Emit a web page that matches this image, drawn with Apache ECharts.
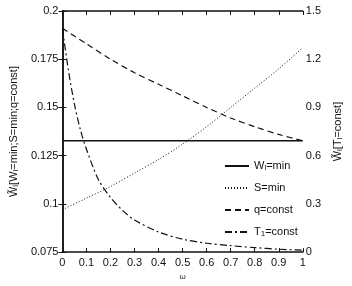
<!DOCTYPE html>
<html>
<head>
<meta charset="utf-8">
<script src="https://cdn.jsdelivr.net/npm/echarts@6/dist/echarts.min.js"></script>
<style>
  html, body { margin: 0; padding: 0; background: #fff; }
  #chart { width: 352px; height: 286px; }
</style>
</head>
<body>
<div id="chart"></div>
<script>
// x positions (omega) and series
const omegaGrid = [0, 0.1, 0.2, 0.3, 0.4, 0.5, 0.6, 0.7, 0.8, 0.9, 1.0];
const wMinValues = [0.1327, 0.1327, 0.1327, 0.1327, 0.1327, 0.1327, 0.1327, 0.1327, 0.1327, 0.1327, 0.1327];
const sMinValues = [0.097, 0.103, 0.109, 0.116, 0.123, 0.131, 0.140, 0.150, 0.160, 0.170, 0.181];
const qConstValues = [0.191, 0.183, 0.175, 0.168, 0.162, 0.156, 0.150, 0.1445, 0.140, 0.136, 0.1327];
const tOmega = [0, 0.025, 0.05, 0.075, 0.1, 0.15, 0.2, 0.25, 0.3, 0.4, 0.5, 0.6, 0.7, 0.8, 0.9, 1.0];
const tConstValues = [1.39, 1.13, 0.92, 0.76, 0.64, 0.45, 0.34, 0.26, 0.20, 0.125, 0.08, 0.055, 0.04, 0.028, 0.018, 0.012];

const xTicks = { min: 0, max: 1, interval: 0.1 };
const leftTicks = { min: 0.075, max: 0.2, interval: 0.025 };
const rightTicks = { min: 0, max: 1.5, interval: 0.3 };

const ink = "#111";
const font = "'Liberation Sans', Arial, sans-serif";

function pairs(xs, ys) {
  return xs.map((x, i) => [x, ys[i]]);
}

const subRich = {
  s: { fontSize: 8, lineHeight: 6, verticalAlign: "bottom", fontFamily: font, color: ink },
};

function lineSeries(name, data, yIndex, type, width) {
  return {
    name,
    type: "line",
    yAxisIndex: yIndex,
    symbol: "none",
    showSymbol: false,
    smooth: 0.3,
    data,
    lineStyle: { color: ink, width, type },
    itemStyle: { color: ink },
  };
}

const legendLabels = {
  "Wl=min": "W{s|l}=min",
  "S=min": "S=min",
  "q=const": "q=const",
  "T1=const": "T{s|1}=const",
};

const chart = echarts.init(document.getElementById("chart"), null, { renderer: "canvas" });
chart.setOption({
  backgroundColor: "#fff",
  animation: false,
  textStyle: { fontFamily: font },
  grid: { left: 52, right: 38, top: 11, bottom: 30 },
  legend: {
    orient: "vertical",
    left: 219,
    top: 155,
    itemWidth: 24,
    itemHeight: 10,
    itemGap: 10,
    itemStyle: { opacity: 0, borderWidth: 0 },
    formatter: (n) => legendLabels[n],
    textStyle: { fontSize: 11, color: ink, lineHeight: 12, fontFamily: font, rich: subRich },
    data: ["Wl=min", "S=min", "q=const", "T1=const"],
  },
  xAxis: [
    {
      type: "value",
      ...xTicks,
      name: "ω",
      nameLocation: "middle",
      nameGap: 20,
      nameTextStyle: { fontSize: 8, color: ink },
      axisLine: { lineStyle: { color: ink, width: 1.5 } },
      axisTick: { inside: true, length: 4, lineStyle: { color: ink } },
      axisLabel: { fontSize: 11, color: ink, margin: 5 },
      splitLine: { show: false },
    },
    {
      type: "value",
      position: "top",
      ...xTicks,
      axisLine: { show: true, lineStyle: { color: ink, width: 1.5 } },
      axisTick: { show: true, inside: true, length: 4, lineStyle: { color: ink } },
      axisLabel: { show: false },
      splitLine: { show: false },
    },
  ],
  yAxis: [
    {
      type: "value",
      ...leftTicks,
      name: "W̃{s|l}[W{s|l}=min;S=min;q=const]",
      nameLocation: "middle",
      nameRotate: 90,
      nameGap: 34,
      nameTextStyle: { fontSize: 11, color: ink, lineHeight: 12, rich: subRich },
      axisLine: { show: true, lineStyle: { color: ink, width: 1.5 } },
      axisTick: { inside: true, length: 4, lineStyle: { color: ink } },
      axisLabel: { fontSize: 11, color: ink, margin: 4 },
      splitLine: { show: false },
    },
    {
      type: "value",
      position: "right",
      ...rightTicks,
      name: "W̃{s|l}[T{s|l}=const]",
      nameLocation: "middle",
      nameRotate: 90,
      nameGap: 26,
      nameTextStyle: { fontSize: 11, color: ink, lineHeight: 12, rich: subRich },
      axisLine: { show: true, lineStyle: { color: ink, width: 1.5 } },
      axisTick: { inside: true, length: 4, lineStyle: { color: ink } },
      axisLabel: { fontSize: 11, color: ink, margin: 3 },
      splitLine: { show: false },
    },
  ],
  series: [
    lineSeries("Wl=min", pairs(omegaGrid, wMinValues), 0, "solid", 1.6),
    lineSeries("S=min", pairs(omegaGrid, sMinValues), 0, [1, 2], 1),
    lineSeries("q=const", pairs(omegaGrid, qConstValues), 0, [6, 4], 1.2),
    lineSeries("T1=const", pairs(tOmega, tConstValues), 1, [7, 3, 2, 3], 1.2),
  ],
});
</script>
</body>
</html>
